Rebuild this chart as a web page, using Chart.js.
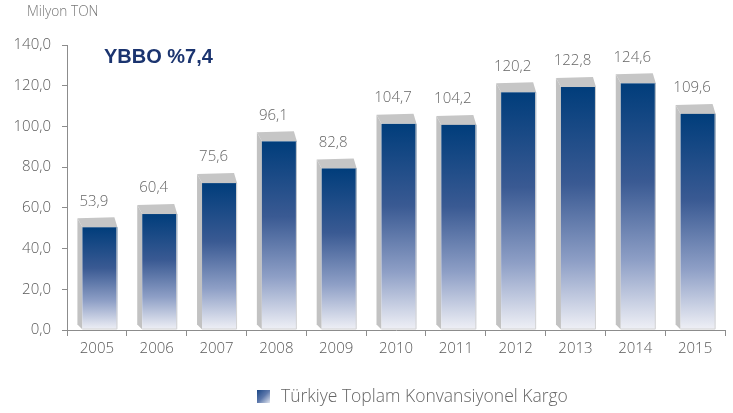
<!DOCTYPE html>
<html>
<head>
<meta charset="utf-8">
<script src="https://cdn.jsdelivr.net/npm/chart.js@4.4.1/dist/chart.umd.min.js"></script>
<style>
  html, body { margin: 0; padding: 0; background: #fff; }
  #wrap { position: relative; width: 733px; height: 413px; }
</style>
</head>
<body>
<div id="wrap"><canvas id="chart" width="733" height="413"></canvas></div>
<script>
const years = ["2005", "2006", "2007", "2008", "2009", "2010", "2011", "2012", "2013", "2014", "2015"];
const cargo = [53.9, 60.4, 75.6, 96.1, 82.8, 104.7, 104.2, 120.2, 122.8, 124.6, 109.6];
const seriesName = "Türkiye Toplam Konvansiyonel Kargo";
const unitLabel = "Milyon TON";
const growthLabel = "YBBO %7,4";

const FONT = "'Open Sans', Lato, sans-serif";
const fmt = v => v.toFixed(1).replace(".", ",");

// draws the 3D boxes, value labels, unit text and legend
const boxes3d = {
  id: "boxes3d",
  afterDatasetsDraw(chart) {
    const ctx = chart.ctx;
    const meta = chart.getDatasetMeta(0);
    ctx.save();
    meta.data.forEach((el, i) => {
      const w = el.width;
      const x0 = el.x - w / 2 + 3;
      const x1 = x0 + w;
      const top = el.y + 7;
      const base = el.base;

      // left side face
      ctx.fillStyle = "#c2c2c2";
      ctx.beginPath();
      ctx.moveTo(x0 - 5, top - 9);
      ctx.lineTo(x0, top);
      ctx.lineTo(x0, base);
      ctx.lineTo(x0 - 5, base - 5);
      ctx.closePath();
      ctx.fill();

      // top face
      ctx.fillStyle = "#c6c6c6";
      ctx.beginPath();
      ctx.moveTo(x0 - 5, top - 9);
      ctx.lineTo(x1 - 3, top - 10);
      ctx.lineTo(x1, top);
      ctx.lineTo(x0, top);
      ctx.closePath();
      ctx.fill();

      // front face
      const g = ctx.createLinearGradient(0, top, 0, base);
      g.addColorStop(0, "#003d7b");
      g.addColorStop(0.4, "#3a5a93");
      g.addColorStop(0.72, "#8e9fc6");
      g.addColorStop(1, "#eff0f6");
      ctx.fillStyle = g;
      ctx.fillRect(x0, top, w, base - top);
      ctx.strokeStyle = "#d4d4d4";
      ctx.lineWidth = 1;
      ctx.beginPath();
      ctx.moveTo(x1 - 0.5, top);
      ctx.lineTo(x1 - 0.5, base - 0.5);
      ctx.lineTo(x0, base - 0.5);
      ctx.stroke();

      // value label
      ctx.fillStyle = "#666";
      ctx.font = "300 15px " + FONT;
      ctx.textAlign = "center";
      ctx.textBaseline = "middle";
      ctx.fillText(fmt(cargo[i]), el.x - 3, top - 26);
    });

    // unit + growth text
    ctx.textAlign = "left";
    ctx.textBaseline = "middle";
    ctx.fillStyle = "#777";
    ctx.font = "300 13.7px " + FONT;
    ctx.fillText(unitLabel, 27, 12);
    ctx.fillStyle = "#1b346f";
    ctx.font = "bold 20px 'Liberation Sans', Arial, sans-serif";
    ctx.fillText(growthLabel, 104, 57);

    // legend
    const lg = ctx.createLinearGradient(257, 390, 270, 403);
    lg.addColorStop(0, "#1a4685");
    lg.addColorStop(0.5, "#5d78ab");
    lg.addColorStop(1, "#e4e8f1");
    ctx.fillStyle = lg;
    ctx.fillRect(257, 390, 13, 13);
    ctx.fillStyle = "#666";
    ctx.font = "300 17.5px " + FONT;
    ctx.fillText(seriesName, 281, 397);
    ctx.restore();
  }
};

new Chart(document.getElementById("chart"), {
  type: "bar",
  data: {
    labels: years,
    datasets: [{
      label: seriesName,
      data: cargo,
      backgroundColor: "rgba(0,0,0,0)",
      borderWidth: 0,
      barPercentage: 0.585,
      categoryPercentage: 1
    }]
  },
  options: {
    responsive: false,
    animation: false,
    layout: { padding: { top: 45, right: 8, left: 0, bottom: 0 } },
    plugins: {
      legend: { display: false },
      tooltip: { enabled: false }
    },
    scales: {
      x: {
        grid: { drawOnChartArea: false, color: "#8c8c8c", tickLength: 6, offset: true },
        border: { color: "#8c8c8c" },
        ticks: { color: "#595959", font: { family: FONT, size: 15, weight: 300 }, padding: 4 },
        afterFit(scale) { scale.height = 83; }
      },
      y: {
        min: 0,
        max: 140,
        grid: { drawOnChartArea: false, color: "#8c8c8c", tickLength: 5 },
        border: { color: "#8c8c8c" },
        ticks: {
          stepSize: 10,
          color: "#595959",
          font: { family: FONT, size: 15, weight: 300 },
          padding: 11,
          callback: v => (v % 20 === 0 ? fmt(v) : "")
        },
        afterFit(scale) { scale.width = 67; }
      }
    }
  },
  plugins: [boxes3d]
});
</script>
</body>
</html>
